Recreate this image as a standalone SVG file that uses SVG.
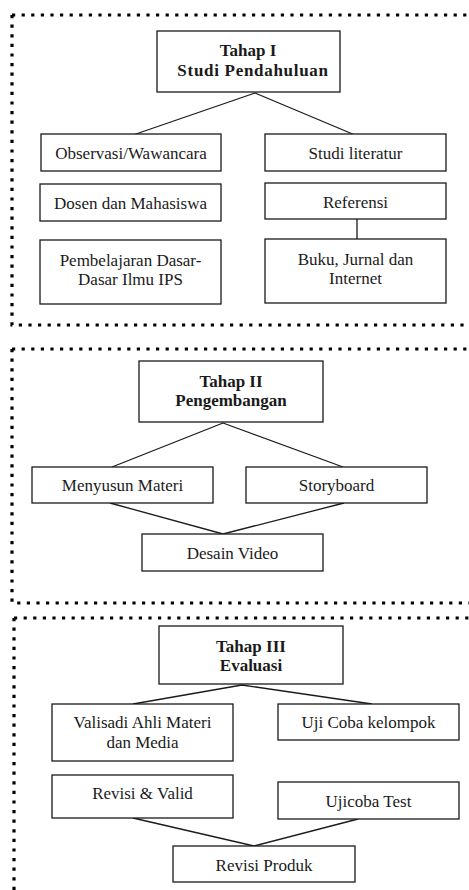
<svg xmlns="http://www.w3.org/2000/svg" width="469" height="890" viewBox="0 0 469 890">
<style>
.bg{fill:#fff}
.box{fill:#fff;stroke:#1a1a1a;stroke-width:1.3}
.ln{fill:none;stroke:#1a1a1a;stroke-width:1.3}
.dot{fill:none;stroke:#000;stroke-width:3.2;stroke-dasharray:3.2 6.4}
text{font-family:"Liberation Serif","Times New Roman",serif;font-size:17px;fill:#1a1a1a;text-anchor:middle}
.t{font-weight:bold}
.sp{letter-spacing:0.7px}
</style>
<rect class="bg" x="0" y="0" width="469" height="890"/>
<g id="frames">
<path class="dot" d="M12 15 H470 M12 15 V325 H470"/>
<path class="dot" d="M12 349 H470 M12 349 V603 H470"/>
<path class="dot" d="M14 618 H470 M14 618 V892"/>
</g>
<g id="connectors">
<path class="ln" d="M255 93 L133 135 M255 93 L355 135"/>
<path class="ln" d="M357 219 V239"/>
<path class="ln" d="M223 423 L112 467 M223 423 L343 467"/>
<path class="ln" d="M110 503 L223 534 L344 503"/>
<path class="ln" d="M242 685 L133 704 M242 685 L372 704"/>
<path class="ln" d="M133 818 L254 846 L358 819"/>
</g>
<g id="tahap1"><rect class="box" x="157" y="31" width="183" height="61"/><text class="t" x="248" y="56">Tahap I</text><text class="t sp" x="253" y="76">Studi Pendahuluan</text></g>
<g id="observasi"><rect class="box" x="41" y="134" width="180" height="37"/><text x="131" y="159">Observasi/Wawancara</text></g>
<g id="studi"><rect class="box" x="265" y="134" width="181" height="37"/><text x="355.5" y="159">Studi literatur</text></g>
<g id="dosen"><rect class="box" x="40" y="184" width="181" height="37"/><text x="130.5" y="209">Dosen dan Mahasiswa</text></g>
<g id="referensi"><rect class="box" x="265" y="183" width="181" height="36"/><text x="355.5" y="207.5">Referensi</text></g>
<g id="pembelajaran"><rect class="box" x="40" y="240" width="181" height="64"/><text x="130.5" y="266">Pembelajaran Dasar-</text><text x="130.5" y="285">Dasar Ilmu IPS</text></g>
<g id="buku"><rect class="box" x="265" y="239" width="181" height="64"/><text x="355.5" y="265">Buku, Jurnal dan</text><text x="355.5" y="284">Internet</text></g>
<g id="tahap2"><rect class="box" x="139" y="361" width="184" height="61"/><text class="t" x="231" y="386.5">Tahap II</text><text class="t" x="231" y="406">Pengembangan</text></g>
<g id="menyusun"><rect class="box" x="32" y="467" width="181" height="36"/><text x="122.5" y="491">Menyusun Materi</text></g>
<g id="storyboard"><rect class="box" x="246" y="467" width="181" height="36"/><text x="336.5" y="491">Storyboard</text></g>
<g id="desain"><rect class="box" x="142" y="534" width="181" height="37"/><text x="232.5" y="558.5">Desain Video</text></g>
<g id="tahap3"><rect class="box" x="159" y="626" width="184" height="58"/><text class="t" x="251" y="651.5">Tahap III</text><text class="t" x="251" y="671">Evaluasi</text></g>
<g id="validasi"><rect class="box" x="52" y="704" width="181" height="57"/><text x="142.5" y="728">Valisadi Ahli Materi</text><text x="142.5" y="748">dan Media</text></g>
<g id="ujicoba"><rect class="box" x="278" y="704" width="181" height="36"/><text x="368.5" y="728">Uji Coba kelompok</text></g>
<g id="revisivalid"><rect class="box" x="52" y="775" width="181" height="43"/><text x="142.5" y="799">Revisi &amp; Valid</text></g>
<g id="ujicobatest"><rect class="box" x="278" y="782" width="181" height="37"/><text x="368.5" y="806.5">Ujicoba Test</text></g>
<g id="revisiproduk"><rect class="box" x="173" y="846" width="182" height="36"/><text x="264" y="870.5">Revisi Produk</text></g>
</svg>
